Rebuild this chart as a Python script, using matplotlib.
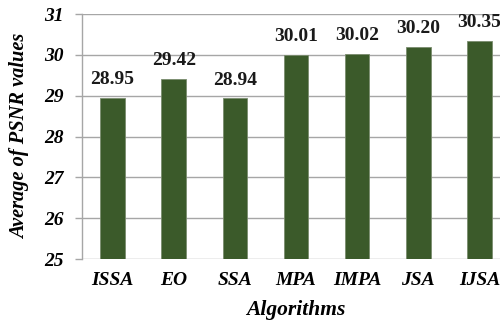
import matplotlib
matplotlib.use("Agg")
import matplotlib.pyplot as plt

algorithms = ["ISSA", "EO", "SSA", "MPA", "IMPA", "JSA", "IJSA"]
psnr = [28.95, 29.42, 28.94, 30.01, 30.02, 30.20, 30.35]
yticks = [25, 26, 27, 28, 29, 30, 31]

plt.rcParams['font.family'] = ['Liberation Serif', 'DejaVu Serif']

fig = plt.figure(figsize=(5, 3.2), dpi=100)
ax = fig.add_axes([0.164, 0.19, 0.856, 0.766])

x = range(len(algorithms))
ax.bar(x, psnr, width=0.4, color='#3B5A2A', edgecolor='#7a8c6e',
       linewidth=0.6, zorder=3)

for xi, v in zip(x, psnr):
    ax.annotate(f"{v:.2f}", (xi, v), xytext=(0, 7), textcoords='offset points',
                ha='center', va='bottom', fontsize=14, fontweight='bold',
                color='#1a1a1a', annotation_clip=False)

ax.set_ylim(25, 31)
ax.set_xlim(-0.5, len(algorithms) - 0.5)
ax.set_yticks(yticks)
ax.set_yticklabels([str(t) for t in yticks], fontsize=14, fontweight='bold',
                   fontstyle='italic')
ax.set_xticks(list(x))
ax.set_xticklabels(algorithms, fontsize=14, fontweight='bold', fontstyle='italic')
ax.tick_params(axis='x', length=0, pad=9)
ax.tick_params(axis='y', length=5, color='#A6A6A6', width=1, pad=8)

ax.yaxis.grid(True, color='#A6A6A6', linewidth=1, zorder=0)
for side in ['top', 'right', 'bottom']:
    ax.spines[side].set_visible(False)
ax.spines['left'].set_color('#A6A6A6')
ax.spines['left'].set_linewidth(1)

ax.set_xlabel("Algorithms", fontsize=15.5, fontweight='bold', fontstyle='italic',
              labelpad=8)
ax.set_ylabel("Average of PSNR values", fontsize=14.7, fontweight='bold',
              fontstyle='italic', labelpad=10)

fig.savefig("out.png", dpi=100)
